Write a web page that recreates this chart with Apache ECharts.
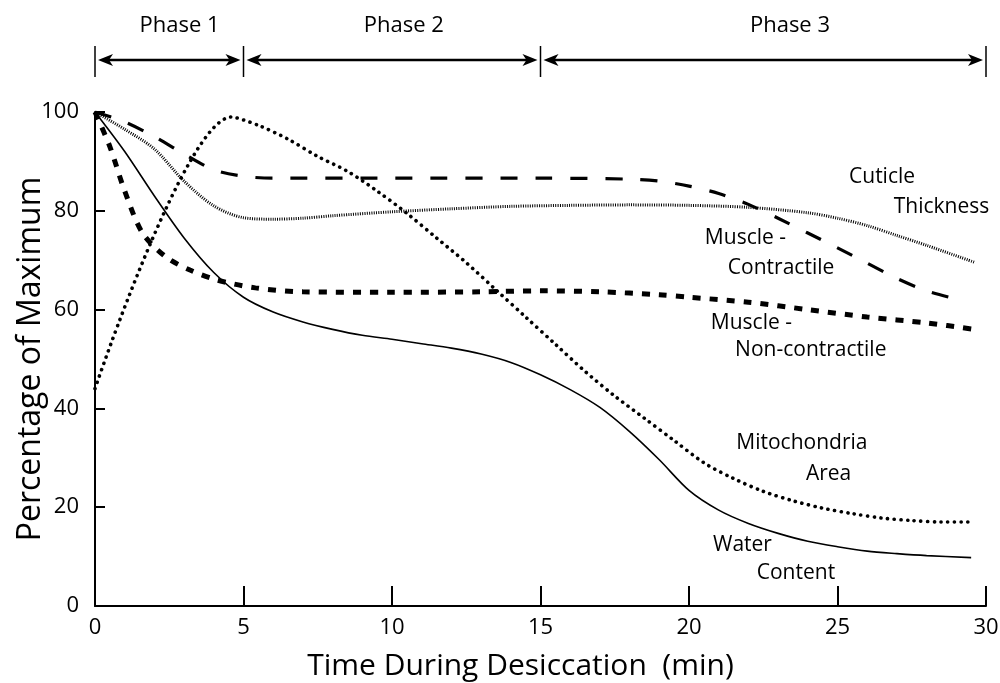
<!DOCTYPE html>
<html>
<head>
<meta charset="utf-8">
<script src="https://cdn.jsdelivr.net/npm/echarts@6/dist/echarts.min.js"></script>
<style>
  html, body { margin: 0; padding: 0; background: #fff; }
  #chart { width: 1000px; height: 683px; }
</style>
</head>
<body>
<div id="chart"></div>
<script>
// values, [time (min), % of maximum]
const waterContent = [[0, 100], [1, 92], [2, 83], [3, 74.5], [4, 67.5], [5, 62.5], [6, 59.5], [7, 57.5], [8, 56],
  [9, 54.8], [10, 54], [11, 53.1], [12, 52.2], [13, 51], [14, 49.3], [15, 46.8], [16, 43.8], [17, 40.2], [18, 35.3],
  [19, 29.6], [20, 23.4], [21, 19.4], [22, 16.7], [23, 14.7], [24, 13.1], [25, 12], [26, 11.1], [27, 10.6],
  [28, 10.2], [29.5, 9.8]];
const muscleNonContractile = [[0, 100], [0.5, 93], [1, 84], [1.6, 75.5], [2.4, 70.6], [3.2, 68], [4.1, 66], [5.4, 64.4],
  [7, 63.6], [10, 63.5], [13, 63.6], [15, 63.8], [17, 63.6], [19, 63], [20, 62.5], [22, 61.5], [24, 60], [26, 58.5],
  [28, 57.3], [29.6, 56]];
const muscleContractile = [[0, 100], [1, 98], [2, 95], [3, 91.5], [4, 88.3], [5, 87], [6, 86.6], [10, 86.6], [15, 86.6],
  [18, 86.4], [19, 86], [20, 85], [21, 83.5], [22, 81.3], [23, 78.5], [24, 75.5], [25, 72.5], [26, 69.4], [27, 66.3],
  [28, 63.8], [29.3, 61.7]];
const cuticleThickness = [[0, 100], [1, 96.5], [2, 92.5], [3, 86], [4, 81], [5, 78.6], [6, 78.3], [7, 78.5], [8, 79],
  [10, 79.8], [12, 80.4], [14, 80.9], [16, 81.1], [18, 81.2], [20, 81.1], [22, 80.7], [24, 79.6], [25, 78.5], [26, 77],
  [27, 75], [28, 73], [29.6, 69.6]];
const mitochondriaArea = [[0, 44], [4.6, 99], [5.5, 97.3], [6.5, 94.5], [7.5, 91], [8.5, 88], [9.5, 84], [10.5, 79.5],
  [11.5, 74.5], [12.5, 69.5], [13.5, 64], [14.5, 58.5], [15.5, 53], [16.5, 47.5], [17.5, 42.5], [18.5, 38], [19.5, 33.5],
  [20.5, 29], [21.5, 25.8], [22.5, 23.2], [23.5, 21.3], [24.5, 19.8], [25.5, 18.7], [26.5, 17.8], [27.5, 17.3],
  [28.5, 17], [29.5, 17]];

const phaseBounds = [0, 5, 15, 30];
const phaseNames = ['Phase 1', 'Phase 2', 'Phase 3'];
const curveNames = ['Cuticle', 'Thickness', 'Muscle -', 'Contractile', 'Muscle -', 'Non-contractile',
  'Mitochondria', 'Area', 'Water', 'Content'];

// where the annotations sit, in data units
const phaseNameAt = [2.85, 10.4, 23.4];
const curveNameAt = [[26.5, 86.8], [28.5, 80.8], [21.9, 74.5], [23.1, 68.4], [22.1, 57.3], [24.1, 51.8],
  [23.8, 33], [24.7, 26.7], [21.8, 12.3], [23.6, 6.7]];

const FONT = '"Open Sans", Lato, sans-serif';
const chart = echarts.init(document.getElementById('chart'));

function line(data, lineStyle) {
  return {
    type: 'line',
    data: data,
    smooth: 0.3,
    showSymbol: false,
    silent: true,
    lineStyle: Object.assign({ color: '#000' }, lineStyle)
  };
}

chart.setOption({
  animation: false,
  backgroundColor: '#fff',
  grid: { left: 95, right: 14, top: 112, bottom: 77, outerBoundsMode: 'none', containLabel: false },
  xAxis: {
    type: 'value',
    min: 0,
    max: 30,
    interval: 5,
    name: 'Time During Desiccation  (min)',
    nameLocation: 'middle',
    nameMoveOverlap: false,
    nameGap: 45,
    nameTextStyle: { fontFamily: FONT, fontSize: 30, color: '#000', padding: [0, 40, 0, 0] },
    axisLine: { onZero: false, lineStyle: { color: '#000', width: 2 } },
    axisTick: { inside: true, length: 20, lineStyle: { color: '#000', width: 2 } },
    axisLabel: { fontFamily: FONT, fontSize: 22, color: '#000', margin: 11 },
    splitLine: { show: false }
  },
  yAxis: {
    type: 'value',
    min: 0,
    max: 100,
    interval: 20,
    name: 'Percentage of Maximum',
    nameLocation: 'middle',
    nameMoveOverlap: false,
    nameGap: 48,
    nameTextStyle: { fontFamily: FONT, fontSize: 32, color: '#000' },
    axisLine: { show: true, lineStyle: { color: '#000', width: 2 } },
    axisTick: { show: true, inside: true, length: 10, lineStyle: { color: '#000', width: 2 } },
    axisLabel: { fontFamily: FONT, fontSize: 22, color: '#000', margin: 16 },
    splitLine: { show: false }
  },
  series: [
    line(waterContent, { width: 1.6, type: 'solid' }),
    line(muscleNonContractile, { width: 5, type: [8, 9] }),
    line(muscleContractile, { width: 3.2, type: [17, 18] }),
    line(cuticleThickness, { width: 3, type: [1, 1.3] }),
    line(mitochondriaArea, { width: 3.6, type: [0.1, 6.6], cap: 'round' })
  ]
});

// phase arrows above the plot and the curve names, placed through the x / y scales
const px = v => chart.convertToPixel({ xAxisIndex: 0 }, v);
const py = v => chart.convertToPixel({ yAxisIndex: 0 }, v);
const arrowY = 60;
const graphic = [];

phaseBounds.forEach(b => {
  graphic.push({
    type: 'line',
    shape: { x1: px(b), y1: 46, x2: px(b), y2: 77 },
    style: { stroke: '#000', lineWidth: 1.5 }
  });
});

for (let i = 0; i < phaseNames.length; i++) {
  const a = px(phaseBounds[i]) + 3;
  const b = px(phaseBounds[i + 1]) - 3;
  graphic.push({
    type: 'line',
    shape: { x1: a + 8, y1: arrowY, x2: b - 8, y2: arrowY },
    style: { stroke: '#000', lineWidth: 2.5 }
  });
  graphic.push({
    type: 'polygon',
    shape: { points: [[a, arrowY], [a + 15, arrowY - 6], [a + 11, arrowY], [a + 15, arrowY + 6]] },
    style: { fill: '#000' }
  });
  graphic.push({
    type: 'polygon',
    shape: { points: [[b, arrowY], [b - 15, arrowY - 6], [b - 11, arrowY], [b - 15, arrowY + 6]] },
    style: { fill: '#000' }
  });
  graphic.push({
    type: 'text',
    x: px(phaseNameAt[i]),
    y: 26,
    style: { text: phaseNames[i], fontFamily: FONT, fontSize: 22, fill: '#000', align: 'center', verticalAlign: 'middle' }
  });
}

curveNames.forEach((t, i) => {
  graphic.push({
    type: 'text',
    x: px(curveNameAt[i][0]),
    y: py(curveNameAt[i][1]),
    style: { text: t, fontFamily: FONT, fontSize: 21, fill: '#000', align: 'center', verticalAlign: 'middle' }
  });
});

chart.setOption({ graphic: graphic });
</script>
</body>
</html>
